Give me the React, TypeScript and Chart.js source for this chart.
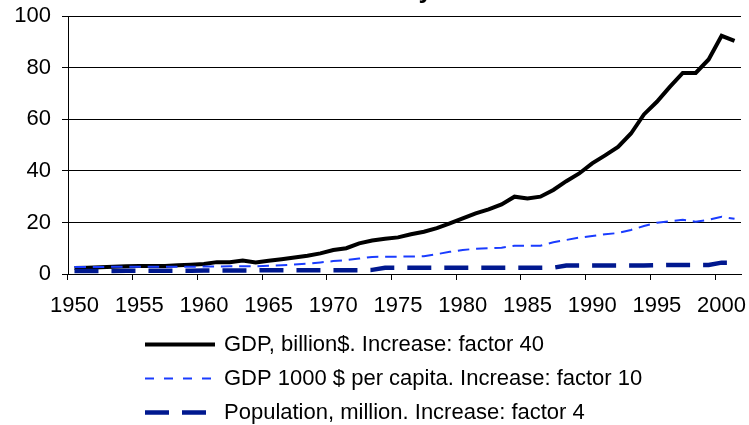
import React, { useEffect, useRef } from 'react';
import { Chart, registerables } from 'chart.js';

Chart.register(...registerables);

// ---- Data ----
const years = [
  '1950', '1951', '1952', '1953', '1954', '1955', '1956', '1957', '1958', '1959',
  '1960', '1961', '1962', '1963', '1964', '1965', '1966', '1967', '1968', '1969',
  '1970', '1971', '1972', '1973', '1974', '1975', '1976', '1977', '1978', '1979',
  '1980', '1981', '1982', '1983', '1984', '1985', '1986', '1987', '1988', '1989',
  '1990', '1991', '1992', '1993', '1994', '1995', '1996', '1997', '1998', '1999',
  '2000', '2001',
];

const gdpBillion = [
  2.3, 2.4, 2.6, 2.8, 3.0, 3.1, 3.1, 3.1, 3.4, 3.6,
  3.9, 4.6, 4.6, 5.2, 4.5, 5.1, 5.7, 6.4, 7.1, 8.0,
  9.3, 10.0, 11.9, 13.0, 13.7, 14.2, 15.4, 16.4, 17.8, 19.6,
  21.6, 23.5, 25.1, 27.0, 30.0, 29.3, 30.0, 32.6, 36.0, 39.0,
  42.9, 46.0, 49.3, 54.5, 61.9, 66.8, 72.6, 78.0, 78.0, 83.2,
  92.4, 90.4,
];

const gdpPerCapita = [
  2.7, 2.7, 2.7, 2.8, 2.8, 2.8, 2.8, 2.8, 2.8, 2.8,
  2.9, 2.9, 3.0, 3.0, 3.0, 3.2, 3.4, 3.7, 4.0, 4.5,
  5.0, 5.4, 6.0, 6.6, 6.7, 6.7, 6.8, 6.9, 7.7, 8.6,
  9.3, 9.8, 10.0, 10.2, 11.0, 11.0, 11.0, 12.3, 13.2, 14.1,
  14.7, 15.4, 15.9, 17.1, 18.6, 19.9, 20.4, 21.0, 20.3, 21.0,
  22.2, 21.4,
];

const population = [
  1.2, 1.2, 1.2, 1.2, 1.3, 1.3, 1.3, 1.3, 1.3, 1.3,
  1.4, 1.4, 1.4, 1.4, 1.4, 1.5, 1.5, 1.5, 1.5, 1.5,
  1.5, 1.5, 1.5, 1.6, 2.4, 2.4, 2.4, 2.4, 2.4, 2.4,
  2.4, 2.4, 2.4, 2.4, 2.4, 2.4, 2.4, 2.45, 3.3, 3.3,
  3.3, 3.3, 3.3, 3.3, 3.3, 3.4, 3.5, 3.5, 3.5, 3.5,
  4.4, 4.4,
];

const seriesNames = [
  'GDP, billion$. Increase: factor 40',
  'GDP 1000 $ per capita. Increase: factor 10',
  'Population, million. Increase: factor 4',
];

const titleText = 'Economy';
const yMin = 0;
const yMax = 100;
const yStep = 20;
const labelEvery = 5;

// ---- Layout / style ----
const TOP_CLIP = 25;
const W = 749;
const H = 425 + TOP_CLIP;
const FONT = '"Liberation Sans", Arial, Helvetica, sans-serif';

const legendPlugin = {
  id: 'bottomLegend',
  afterDraw(chart: any) {
    const { ctx } = chart;
    const base = chart.scales.x.bottom;
    ctx.save();
    ctx.font = `22px ${FONT}`;
    ctx.textBaseline = 'middle';
    ctx.textAlign = 'left';
    chart.data.datasets.forEach((ds: any, i: number) => {
      const y = Math.round(base + 25 + i * 34) + 0.5;
      ctx.beginPath();
      ctx.setLineDash(ds.legendDash || []);
      ctx.lineCap = 'butt';
      ctx.strokeStyle = ds.borderColor;
      ctx.lineWidth = ds.borderWidth;
      ctx.moveTo(145, y);
      ctx.lineTo(215, y);
      ctx.stroke();
      ctx.setLineDash([]);
      ctx.fillStyle = '#000';
      ctx.fillText(ds.label, 224, y);
    });
    ctx.restore();
  },
};

export default function App() {
  const ref = useRef<HTMLCanvasElement>(null);

  useEffect(() => {
    if (!ref.current) return;
    const chart = new Chart(ref.current, {
      type: 'line',
      data: {
        labels: years,
        datasets: [
          {
            label: seriesNames[0],
            data: gdpBillion,
            borderColor: '#000000',
            borderWidth: 4,
            pointRadius: 0,
            tension: 0,
            fill: false,
            order: 3,
            legendDash: [],
          } as any,
          {
            label: seriesNames[1],
            data: gdpPerCapita,
            borderColor: '#1a3cff',
            borderWidth: 2,
            borderDash: [11.5, 6.8],
            pointRadius: 0,
            tension: 0,
            fill: false,
            order: 2,
            legendDash: [9, 10],
          } as any,
          {
            label: seriesNames[2],
            data: population,
            borderColor: '#00188f',
            borderWidth: 4.5,
            borderDash: [24, 13],
            pointRadius: 0,
            tension: 0,
            fill: false,
            order: 1,
            legendDash: [24, 13],
          } as any,
        ],
      },
      options: {
        responsive: false,
        animation: false,
        events: [],
        layout: { padding: { left: 8, right: 8, top: 0, bottom: 106 } },
        plugins: {
          legend: { display: false },
          tooltip: { enabled: false },
          title: {
            display: true,
            text: titleText,
            fullSize: true,
            color: '#000',
            font: { family: FONT, size: 26, weight: 'bold' },
            padding: { top: 0, bottom: 10 },
          },
        },
        scales: {
          x: {
            type: 'category',
            offset: true,
            grid: {
              display: true,
              drawOnChartArea: false,
              offset: true,
              drawTicks: true,
              tickLength: 6,
              tickWidth: 1,
              tickColor: (c: any) => (c.index % labelEvery === 0 ? '#000' : 'rgba(0,0,0,0)'),
            },
            border: { display: true, color: '#000', width: 1 },
            ticks: {
              autoSkip: false,
              maxRotation: 0,
              minRotation: 0,
              padding: 13,
              color: '#000',
              font: { family: FONT, size: 22 },
              callback: function (this: any, val: any, index: number) {
                return index % labelEvery === 0 ? this.getLabelForValue(val) : '';
              },
            },
            afterFit: (s: any) => {
              s.height = 45;
            },
          },
          y: {
            min: yMin,
            max: yMax,
            ticks: {
              stepSize: yStep,
              padding: 11,
              color: '#000',
              font: { family: FONT, size: 22 },
            },
            grid: { color: '#000', lineWidth: 1, drawTicks: true, tickLength: 6 },
            border: { display: true, color: '#000', width: 1 },
            afterFit: (s: any) => {
              s.width = 60;
            },
          },
        },
      } as any,
      plugins: [legendPlugin],
    });
    return () => chart.destroy();
  }, []);

  return (
    <div style={{ position: 'absolute', left: 0, top: -TOP_CLIP, width: W, height: H, overflow: 'hidden' }}>
      <canvas ref={ref} width={W} height={H} style={{ display: 'block', width: W, height: H }} />
    </div>
  );
}
